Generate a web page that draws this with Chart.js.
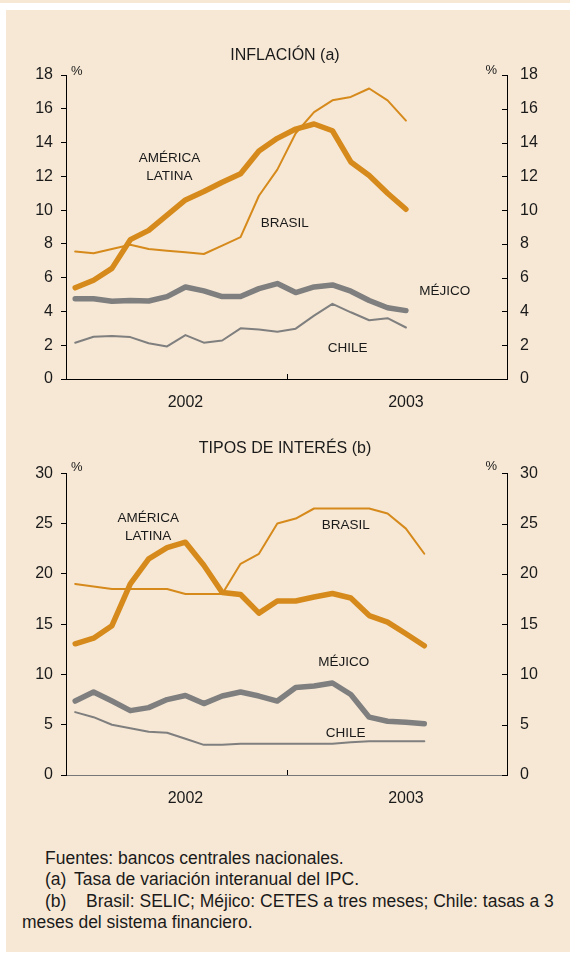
<!DOCTYPE html>
<html lang="es">
<head>
<meta charset="utf-8">
<script src="https://cdn.jsdelivr.net/npm/chart.js@4.4.1/dist/chart.umd.min.js"></script>
<style>
  html, body { margin: 0; padding: 0; background: #fff; }
  body { width: 570px; height: 954px; position: relative; overflow: hidden; font-family: "Liberation Sans", Arial, sans-serif; }
  .franja { position: absolute; left: 0; top: 0; width: 570px; height: 3px; background: #f7e8d5; }
  .panel { position: absolute; left: 6px; top: 10px; width: 564px; height: 942px; background: #f7e8d5; }
  canvas { position: absolute; left: 0; }
  #inflacion { top: 0; }
  #tipos { top: 400px; }
  .nota { position: absolute; font-size: 17.5px; color: #1a1a1a; white-space: nowrap; line-height: 18px; }
</style>
</head>
<body>
<div class="franja"></div>
<div class="panel"></div>
<canvas id="inflacion" width="570" height="420"></canvas>
<canvas id="tipos" width="570" height="420"></canvas>

<div class="nota" style="left:45px;top:849px">Fuentes: bancos centrales nacionales.</div>
<div class="nota" style="left:45px;top:870px">(a)</div>
<div class="nota" style="left:74px;top:870px">Tasa de variación interanual del IPC.</div>
<div class="nota" style="left:45px;top:892px">(b)</div>
<div class="nota" style="left:86px;top:892px">Brasil: SELIC; Méjico: CETES a tres meses; Chile: tasas a 3</div>
<div class="nota" style="left:22px;top:913px">meses del sistema financiero.</div>

<script>
// meses de ene-2002 a dic-2003
const meses = [
  '2002-01','2002-02','2002-03','2002-04','2002-05','2002-06',
  '2002-07','2002-08','2002-09','2002-10','2002-11','2002-12',
  '2003-01','2003-02','2003-03','2003-04','2003-05','2003-06',
  '2003-07','2003-08','2003-09','2003-10','2003-11','2003-12'
];
const anios = ['2002', '2003'];

// inflación (%), ene-2002 a jul-2003
const inflAmLatina = [5.4, 5.85, 6.55, 8.25, 8.8, 9.7, 10.6, 11.1, 11.65, 12.15, 13.5, 14.25, 14.8, 15.1, 14.7, 12.85, 12.05, 11.0, 10.05];
const inflBrasil   = [7.55, 7.45, 7.7, 7.95, 7.7, 7.6, 7.5, 7.4, 7.9, 8.4, 10.85, 12.4, 14.55, 15.8, 16.5, 16.7, 17.2, 16.5, 15.3];
const inflMejico   = [4.75, 4.75, 4.6, 4.65, 4.62, 4.88, 5.45, 5.22, 4.88, 4.88, 5.35, 5.65, 5.12, 5.45, 5.57, 5.2, 4.65, 4.22, 4.05];
const inflChile    = [2.15, 2.5, 2.55, 2.48, 2.12, 1.93, 2.6, 2.15, 2.28, 3.0, 2.93, 2.8, 2.98, 3.75, 4.45, 3.95, 3.48, 3.6, 3.05];

// tipos de interés (%), ene-2002 a ago-2003
const tiposAmLatina = [13.05, 13.6, 14.85, 19.0, 21.5, 22.6, 23.15, 20.85, 18.15, 17.95, 16.1, 17.3, 17.3, 17.7, 18.05, 17.6, 15.85, 15.2, 14.05, 12.85];
const tiposBrasil   = [19.0, 18.75, 18.5, 18.5, 18.5, 18.5, 18.0, 18.0, 18.0, 21.0, 22.0, 25.0, 25.5, 26.5, 26.5, 26.5, 26.5, 26.0, 24.5, 22.0];
const tiposMejico   = [7.35, 8.25, 7.35, 6.4, 6.7, 7.5, 7.9, 7.1, 7.85, 8.25, 7.85, 7.35, 8.7, 8.85, 9.15, 8.0, 5.75, 5.35, 5.25, 5.1];
const tiposChile    = [6.25, 5.75, 5.0, 4.65, 4.3, 4.2, 3.6, 3.0, 3.0, 3.1, 3.1, 3.1, 3.1, 3.1, 3.1, 3.25, 3.35, 3.35, 3.35, 3.35];

const NARANJA = '#d68a1c';
const GRIS = '#7f7f7f';
const TEXTO = '#1a1a1a';
const FUENTE = '"Liberation Sans", Arial, Helvetica, sans-serif';

Chart.defaults.font.family = FUENTE;
Chart.defaults.color = TEXTO;

function serie(datos, color, grosor) {
  return {
    data: datos,
    borderColor: color,
    borderWidth: grosor,
    pointRadius: 0,
    tension: 0,
    fill: false,
    borderCapStyle: 'round',
    borderJoinStyle: 'round'
  };
}

// textos dentro del gráfico, marcas interiores y el símbolo %
const decoracion = {
  id: 'decoracion',
  afterDraw(chart, args, opts) {
    const { ctx, chartArea: a, scales } = chart;
    ctx.save();
    ctx.strokeStyle = '#000';
    ctx.lineWidth = 1;
    ctx.beginPath();
    scales.y2.ticks.forEach(t => {
      const py = Math.round(scales.y2.getPixelForValue(t.value)) + 0.5;
      ctx.moveTo(a.right - 5, py);
      ctx.lineTo(a.right, py);
    });
    const px = Math.round(scales.x.getPixelForValue(11.5)) + 0.5;
    ctx.moveTo(px, a.bottom - 5);
    ctx.lineTo(px, a.bottom);
    ctx.stroke();

    ctx.fillStyle = TEXTO;
    ctx.font = '13px ' + FUENTE;
    ctx.textBaseline = 'alphabetic';
    ctx.textAlign = 'left';
    ctx.fillText('%', a.left + 5, a.top + opts.pctDy);
    ctx.textAlign = 'right';
    ctx.fillText('%', a.right - 10, a.top + opts.pctDy - 1);

    ctx.font = '13.5px ' + FUENTE;
    ctx.textAlign = 'center';
    ctx.textBaseline = 'middle';
    opts.etiquetas.forEach(e => {
      ctx.fillText(e.texto, scales.x.getPixelForValue(e.x), scales.y.getPixelForValue(e.y));
    });
    ctx.restore();
  }
};

function crearGrafico(id, titulo, series, maximo, paso, ajuste, etiquetas) {
  const ejeY = (pos) => ({
    position: pos,
    min: 0,
    max: maximo,
    border: { display: true, color: '#000', width: 1 },
    grid: { drawOnChartArea: false, drawTicks: pos === 'left', tickLength: 5, color: '#000' },
    ticks: { stepSize: paso, padding: pos === 'left' ? 8 : 13, font: { size: 16 }, color: TEXTO },
    afterFit: (s) => { s.width = pos === 'left' ? 66 : 63; }
  });
  return new Chart(document.getElementById(id), {
    type: 'line',
    data: { labels: meses, datasets: series },
    options: {
      responsive: false,
      animation: false,
      layout: { padding: 0 },
      plugins: {
        legend: { display: false },
        tooltip: { enabled: false },
        title: {
          display: true,
          text: titulo,
          color: TEXTO,
          font: { size: 16, weight: 'normal' },
          padding: { top: ajuste.tituloArriba, bottom: ajuste.tituloAbajo }
        },
        decoracion: { etiquetas: etiquetas, pctDy: ajuste.pctDy }
      },
      scales: {
        x: {
          offset: true,
          border: { display: true, color: ajuste.colorEjeX, width: 1 },
          grid: { display: false, drawTicks: false },
          ticks: {
            autoSkip: false,
            maxRotation: 0,
            padding: 14,
            font: { size: 16 },
            color: TEXTO,
            callback: (v, i) => (i % 12 === 6 ? anios[Math.floor(i / 12)] : '')
          },
          afterFit: (s) => { s.height = ajuste.altoEjeX; }
        },
        y: ejeY('left'),
        y2: ejeY('right')
      }
    },
    plugins: [decoracion]
  });
}

crearGrafico('inflacion', 'INFLACIÓN (a)', [
  serie(inflAmLatina, NARANJA, 5.5),
  serie(inflBrasil, NARANJA, 2),
  serie(inflMejico, GRIS, 5.5),
  serie(inflChile, GRIS, 2)
], 18, 2,
{ tituloArriba: 45.5, tituloAbajo: 10.3, altoEjeX: 41, pctDy: 0, colorEjeX: '#000' },
[
  { texto: 'AMÉRICA', x: 5.13, y: 13.04 },
  { texto: 'LATINA', x: 5.13, y: 11.98 },
  { texto: 'BRASIL', x: 11.41, y: 9.22 },
  { texto: 'MÉJICO', x: 20.11, y: 5.21 },
  { texto: 'CHILE', x: 14.83, y: 1.82 }
]);

crearGrafico('tipos', 'TIPOS DE INTERÉS (b)', [
  serie(tiposAmLatina, NARANJA, 5.5),
  serie(tiposBrasil, NARANJA, 2),
  serie(tiposMejico, GRIS, 5.5),
  serie(tiposChile, GRIS, 2)
], 30, 5,
{ tituloArriba: 39, tituloAbajo: 15.1, altoEjeX: 45, pctDy: -2, colorEjeX: '#777' },
[
  { texto: 'AMÉRICA', x: 3.97, y: 25.48 },
  { texto: 'LATINA', x: 3.97, y: 23.69 },
  { texto: 'BRASIL', x: 14.73, y: 24.82 },
  { texto: 'MÉJICO', x: 14.62, y: 11.23 },
  { texto: 'CHILE', x: 14.72, y: 4.15 }
]);
</script>
</body>
</html>
